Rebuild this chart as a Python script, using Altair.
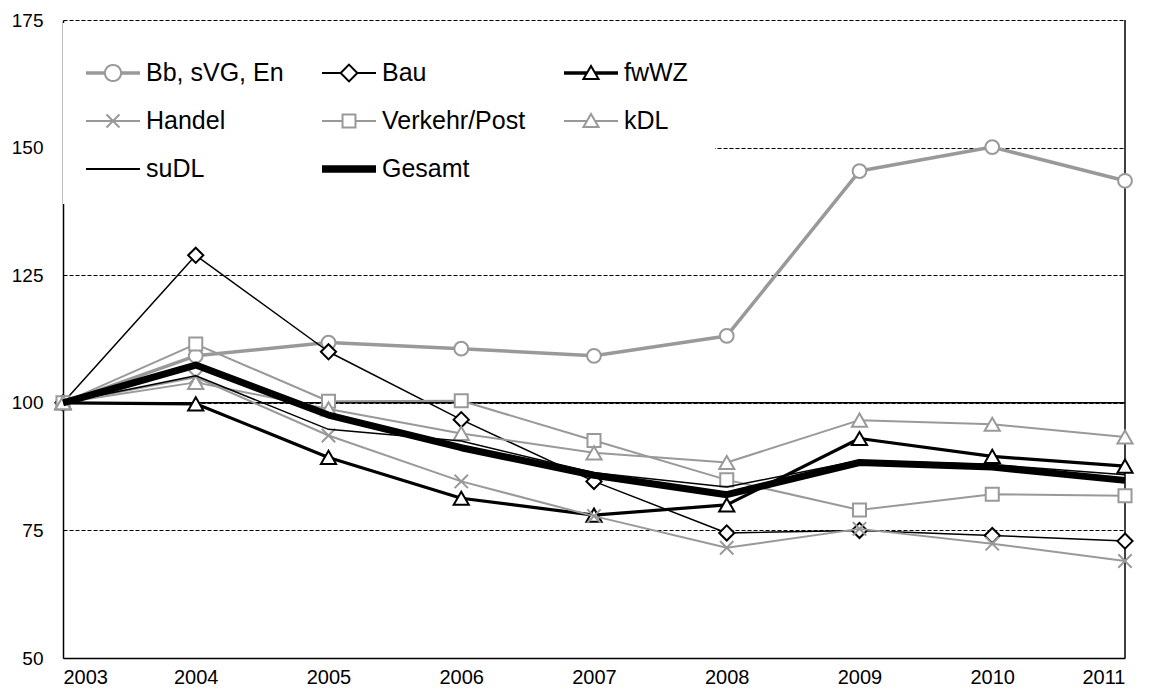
import math
import altair as alt
import pandas as pd

# ---------------- data ----------------
years = [2003, 2004, 2005, 2006, 2007, 2008, 2009, 2010, 2011]
series = ["Bb, sVG, En", "Bau", "fwWZ", "Handel", "Verkehr/Post", "kDL", "suDL", "Gesamt"]

bb_svg_en = [100, 109.2, 111.8, 110.6, 109.2, 113.1, 145.4, 150.1, 143.5]
bau = [100, 128.9, 110.0, 96.7, 84.6, 74.5, 75.0, 74.0, 72.9]
fwwz = [100, 99.8, 89.3, 81.3, 78.0, 80.0, 93.0, 89.5, 87.6]
handel = [100, 105.0, 93.6, 84.6, 77.8, 71.6, 75.3, 72.4, 69.0]
verkehr_post = [100, 111.5, 100.3, 100.4, 92.6, 84.9, 79.0, 82.1, 81.8]
kdl = [100, 104.0, 98.8, 94.0, 90.2, 88.3, 96.6, 95.8, 93.3]
sudl = [100, 105.3, 94.8, 92.5, 86.3, 83.5, 88.7, 87.9, 85.9]
gesamt = [100, 107.4, 97.6, 91.2, 85.8, 82.0, 88.3, 87.4, 84.8]

y_ticks = [50, 75, 100, 125, 150, 175]
base_value = [100]

values = [bb_svg_en, bau, fwwz, handel, verkehr_post, kdl, sudl, gesamt]
df = pd.DataFrame(
    [{"Jahr": y, "Bereich": s, "Index": v}
     for s, vals in zip(series, values) for y, v in zip(years, vals)]
)

# ---------------- styles ----------------
GRAY = "#999999"
BLACK = "#000000"
FONT = "Liberation Sans"

def circle_path(r, n=28):
    pts = [(r * math.cos(2 * math.pi * i / n), r * math.sin(2 * math.pi * i / n)) for i in range(n)]
    return "M" + " L".join(f"{x:.3f},{y:.3f}" for x, y in pts) + " Z"

def seg(x0, x1, offsets):
    return " ".join(f"M{x0},{o} L{x1},{o}" for o in offsets)

def line_with_gap(gap, offsets):
    return seg(-1, -gap, offsets) + " " + seg(gap, 1, offsets)

THIN = [0]
MED = [-0.03, 0.03]
THICK = [-0.1, -0.05, 0, 0.05, 0.1]

X_PATH = "M-1,-1 L1,1 M-1,1 L1,-1"

legend_paths = [
    line_with_gap(0.3, MED) + " " + circle_path(0.3),
    line_with_gap(0.31, THIN) + " M0,-0.31 L0.31,0 L0,0.31 L-0.31,0 Z",
    line_with_gap(0.15, MED) + " M0,-0.26 L0.28,0.22 L-0.28,0.22 Z",
    seg(-1, 1, THIN) + " M-0.24,-0.24 L0.24,0.24 M-0.24,0.24 L0.24,-0.24",
    line_with_gap(0.24, THIN) + " M-0.24,-0.24 L0.24,-0.24 L0.24,0.24 L-0.24,0.24 Z",
    line_with_gap(0.15, THIN) + " M0,-0.26 L0.28,0.22 L-0.28,0.22 Z",
    seg(-1, 1, THIN),
    seg(-1, 1, THICK),
]
legend_colors = [GRAY, BLACK, BLACK, GRAY, GRAY, GRAY, BLACK, BLACK]

styles = {
    "Bb, sVG, En": dict(color=GRAY, width=3.5, shape="circle", size=190),
    "Bau": dict(color=BLACK, width=1.5, shape="diamond", size=230),
    "fwWZ": dict(color=BLACK, width=3.2, shape="triangle-up", size=230),
    "Handel": dict(color=GRAY, width=2, shape=X_PATH, size=180),
    "Verkehr/Post": dict(color=GRAY, width=2, shape="square", size=170),
    "kDL": dict(color=GRAY, width=2, shape="triangle-up", size=230),
    "suDL": dict(color=BLACK, width=1.5, shape=None, size=0),
    "Gesamt": dict(color=BLACK, width=7, shape=None, size=0),
}

x_enc = alt.X(
    "Jahr:Q",
    scale=alt.Scale(domain=[years[0], years[-1]], nice=False, zero=False),
    axis=alt.Axis(values=years, format="d", title=None, grid=False, ticks=False,
                  labelFontSize=20, labelFont=FONT, labelColor=BLACK, labelPadding=9,
                  domainColor=BLACK, domainWidth=1.5, labelOverlap=False),
)
y_enc = alt.Y(
    "Index:Q",
    scale=alt.Scale(domain=[y_ticks[0], y_ticks[-1]], nice=False, zero=False),
    axis=alt.Axis(values=y_ticks, title=None, grid=True, gridColor=BLACK, gridDash=[4, 2],
                  gridWidth=1, ticks=False, labelFontSize=19, labelFont=FONT,
                  labelColor=BLACK, labelPadding=20, domainColor=BLACK, domainWidth=1.5),
)

layers = []

# solid reference line at 100 and right border at last year
layers.append(
    alt.Chart(pd.DataFrame({"Index": base_value}))
    .mark_rule(color=BLACK, strokeWidth=1.5)
    .encode(y=y_enc)
)
layers.append(
    alt.Chart(pd.DataFrame({"Jahr": [years[-1]]}))
    .mark_rule(color=BLACK, strokeWidth=1.5)
    .encode(x=x_enc)
)

for s in series:
    st = styles[s]
    base = alt.Chart(df).transform_filter(alt.datum.Bereich == s)
    layers.append(
        base.mark_line(color=st["color"], strokeWidth=st["width"], strokeJoin="round")
        .encode(x=x_enc, y=y_enc)
    )
    if st["shape"]:
        layers.append(
            base.mark_point(shape=st["shape"], size=st["size"], filled=True,
                            fill="white" if st["shape"] != X_PATH else "transparent",
                            stroke=st["color"], strokeWidth=2, opacity=1)
            .encode(x=x_enc, y=y_enc)
        )

# blank title on the right only widens the white legend box
legend_cfg = dict(
    title="\u00a0", titleOrient="right", titleFontSize=80, titlePadding=5,
    orient="none", legendX=0, legendY=3, columns=3, direction="horizontal",
    fillColor="white", padding=22, symbolSize=2916, symbolStrokeWidth=2,
    symbolOpacity=1, symbolFillColor="transparent",
    labelFontSize=25, labelFont=FONT, labelColor=BLACK, labelOffset=5,
    labelLimit=400, rowPadding=7, columnPadding=34,
)

legend_layer = (
    alt.Chart(df)
    .mark_point(opacity=0, filled=False)
    .encode(
        x=x_enc, y=y_enc,
        stroke=alt.Stroke("Bereich:N", scale=alt.Scale(domain=series, range=legend_colors),
                          legend=alt.Legend(**legend_cfg)),
        shape=alt.Shape("Bereich:N", scale=alt.Scale(domain=series, range=legend_paths),
                        legend=alt.Legend(**legend_cfg)),
    )
)
layers.append(legend_layer)

chart = (
    alt.layer(*layers)
    .properties(
        width=1062, height=638,
        padding={"left": 55, "top": 12, "right": 23, "bottom": 29},
        autosize=alt.AutoSizeParams(type="none"),
        background="white",
    )
    .configure_view(stroke=None)
)

chart.save("out.html", embed_options={"renderer": "svg", "actions": False})
